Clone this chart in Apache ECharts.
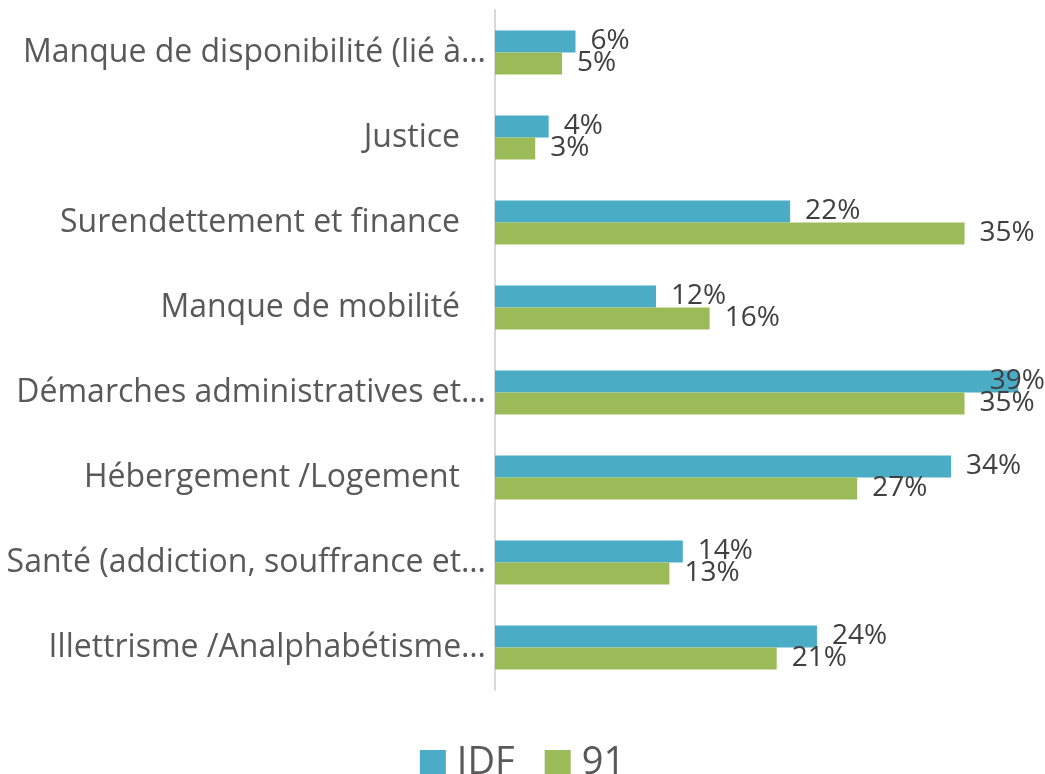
<!DOCTYPE html>
<html>
<head>
<meta charset="utf-8">
<script src="https://cdn.jsdelivr.net/npm/echarts@6/dist/echarts.min.js"></script>
<style>
  html, body { margin: 0; padding: 0; background: #fff; }
  #chart { width: 1045px; height: 774px; }
</style>
</head>
<body>
<div id="chart"></div>
<script>
// catégories (de haut en bas)
const categories = [
  'Manque de disponibilité (lié à…',
  'Justice',
  'Surendettement et finance',
  'Manque de mobilité',
  'Démarches administratives et…',
  'Hébergement /Logement',
  'Santé (addiction, souffrance et…',
  'Illettrisme /Analphabétisme…'
]
const seriesNames = ['IDF', '91']
const valuesIDF = [6, 4, 22, 12, 39, 34, 14, 24]
const values91 = [5, 3, 35, 16, 35, 27, 13, 21]

const colors = ['#4BACC6', '#9BBB59']
const fontFamily = '"Open Sans", sans-serif'

const chart = echarts.init(document.getElementById('chart'))

// les étiquettes qui dépassent à droite sont ramenées dans le cadre
const keepInside = params => {
  const w = chart.getWidth()
  const r = params.labelRect
  if (r.x + r.width > w) {
    return { x: w - r.width, y: r.y, align: 'left', verticalAlign: 'top' }
  }
}

const makeSeries = (name, data, color) => ({
  name: name,
  type: 'bar',
  data: data,
  barWidth: 22,
  barGap: '0%',
  itemStyle: { color: color },
  label: {
    show: true,
    position: 'right',
    distance: 15,
    formatter: '{c}%',
    fontFamily: fontFamily,
    fontSize: 28,
    color: '#404040'
  },
  labelLayout: keepInside
})

chart.setOption({
  animation: false,
  grid: { left: 495, right: 0, top: 10, bottom: 84, containLabel: false },
  legend: {
    data: seriesNames,
    top: 739,
    left: 'center',
    icon: 'rect',
    itemWidth: 26,
    itemHeight: 26,
    itemGap: 30,
    textStyle: {
      fontFamily: fontFamily,
      fontSize: 38,
      color: '#595959',
      padding: [0, 0, 0, 6]
    }
  },
  xAxis: {
    type: 'value',
    min: 0,
    max: 41,
    show: false
  },
  yAxis: {
    type: 'category',
    data: categories,
    inverse: true,
    axisLine: { show: true, lineStyle: { color: '#d9d9d9', width: 2 } },
    axisTick: { show: false },
    axisLabel: {
      margin: 9,
      fontFamily: fontFamily,
      fontSize: 32,
      color: '#595959',
      // les libellés complets ont un espace en fin dans l'original
      formatter: v => v.endsWith('…') ? v : '{pad|' + v + '}',
      rich: {
        pad: {
          fontFamily: fontFamily,
          fontSize: 32,
          color: '#595959',
          padding: [0, 26, 0, 0]
        }
      }
    }
  },
  series: [
    makeSeries(seriesNames[0], valuesIDF, colors[0]),
    makeSeries(seriesNames[1], values91, colors[1])
  ]
})
</script>
</body>
</html>
